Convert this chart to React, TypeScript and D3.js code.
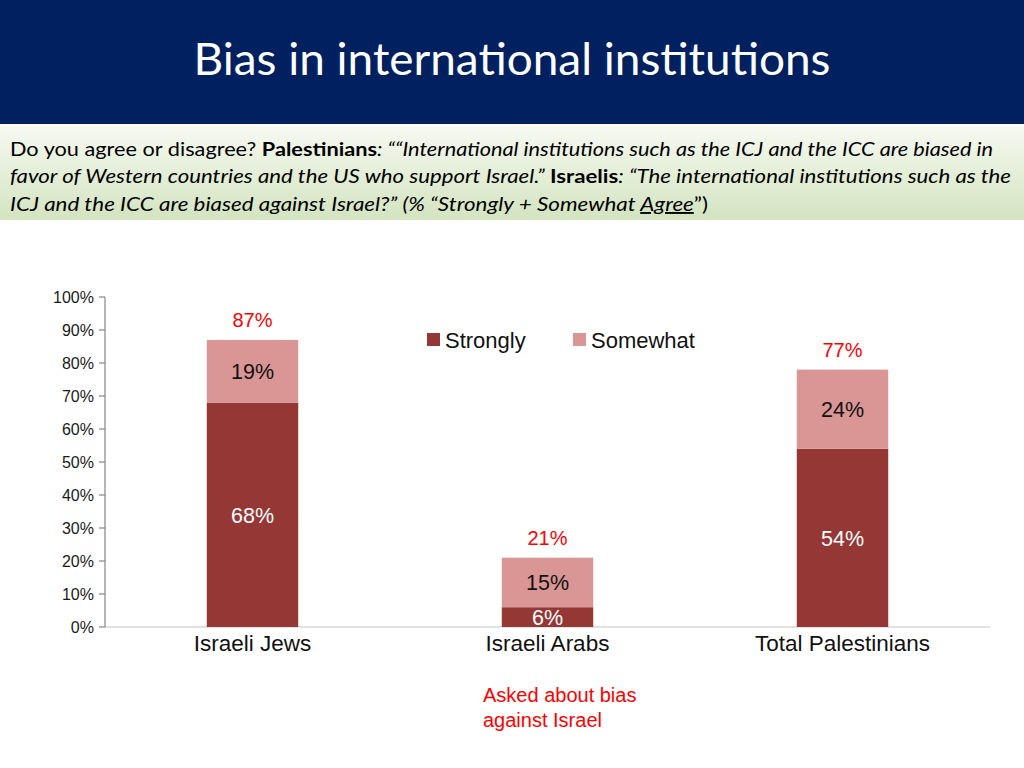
import React from 'react';
import * as d3 from 'd3';

const categories = ['Israeli Jews', 'Israeli Arabs', 'Total Palestinians'];
const strongly = [68, 6, 54];
const somewhat = [19, 15, 24];
const totals = [87, 21, 77];
const seriesNames = ['Strongly', 'Somewhat'];
const yTicks = [0, 10, 20, 30, 40, 50, 60, 70, 80, 90, 100];

const colors = { Strongly: '#953735', Somewhat: '#D99694' };
const arial = '"Liberation Sans", Arial, sans-serif';
const calibri = 'Lato, "Open Sans", sans-serif';
const red = '#FF0000';

const App = () => {
  const rows = categories.map((c, i) => ({ cat: c, Strongly: strongly[i], Somewhat: somewhat[i] }));
  const stacked = d3.stack<any>().keys(seriesNames)(rows);

  const x = d3
    .scaleBand()
    .domain(categories)
    .range([105, 990])
    .paddingInner(0.69)
    .paddingOuter(0.345);
  const y = d3.scaleLinear().domain([0, 100]).range([627, 297]);

  return (
    <svg
      width={1024}
      height={768}
      style={{ display: 'block', position: 'absolute', left: 0, top: 0 }}
    >
      <defs>
        <linearGradient id="band" x1="0" y1="0" x2="0" y2="1">
          <stop offset="0%" stopColor="#f6f9f1" />
          <stop offset="100%" stopColor="#d3e4c0" />
        </linearGradient>
      </defs>
      <rect x={0} y={0} width={1024} height={768} fill="#fff" />

      {/* header */}
      <rect x={0} y={0} width={1024} height={124} fill="#002060" />
      <text
        x={512}
        y={75}
        textAnchor="middle"
        fill="#fff"
        fontFamily={calibri}
        fontSize={44}
        textLength={637}
        lengthAdjust="spacingAndGlyphs"
      >
        Bias in international institutions
      </text>

      {/* question band */}
      <rect x={0} y={126} width={1024} height={94} fill="url(#band)" />
      <g fontFamily={calibri} fontSize={19} fill="#000">
        <text x={10} y={156} textLength={983} lengthAdjust="spacingAndGlyphs">
          <tspan>Do you agree or disagree? </tspan>
          <tspan fontWeight="bold">Palestinians</tspan>
          <tspan fontStyle="italic">: ““International institutions such as the ICJ and the ICC are biased in</tspan>
        </text>
        <text x={10} y={183} textLength={1001} lengthAdjust="spacingAndGlyphs">
          <tspan fontStyle="italic">favor of Western countries and the US who support Israel.”  </tspan>
          <tspan fontWeight="bold">Israelis</tspan>
          <tspan fontStyle="italic">: “The international institutions such as the</tspan>
        </text>
        <text x={10} y={211} textLength={698} lengthAdjust="spacingAndGlyphs">
          <tspan fontStyle="italic">ICJ and the ICC are biased against Israel?” (% “Strongly + Somewhat </tspan>
          <tspan fontStyle="italic" textDecoration="underline">Agree</tspan>
          <tspan>”)</tspan>
        </text>
      </g>

      {/* axes */}
      <line x1={105} x2={990} y1={y(0)} y2={y(0)} stroke="#d9d9d9" strokeWidth={1.5} />
      <line x1={105} x2={105} y1={y(0)} y2={y(100)} stroke="#868686" strokeWidth={1.2} />
      {yTicks.map((t) => (
        <g key={t}>
          <line x1={99} x2={105} y1={y(t)} y2={y(t)} stroke="#868686" strokeWidth={1.2} />
          <text
            x={94}
            y={y(t)}
            dy="0.35em"
            textAnchor="end"
            fontFamily={arial}
            fontSize={16}
            fill="#1a1a1a"
          >
            {t}%
          </text>
        </g>
      ))}

      {/* bars */}
      {stacked.map((s) => (
        <g key={s.key}>
          {s.map((d, i) => {
            const cat = categories[i];
            const top = y(d[1]);
            const bottom = y(d[0]);
            const v = d[1] - d[0];
            return (
              <g key={cat}>
                <rect
                  x={x(cat)}
                  width={x.bandwidth()}
                  y={top}
                  height={bottom - top}
                  fill={colors[s.key as keyof typeof colors]}
                />
                <text
                  x={(x(cat) as number) + x.bandwidth() / 2}
                  y={(top + bottom) / 2}
                  dy="0.36em"
                  textAnchor="middle"
                  fontFamily={arial}
                  fontSize={21.5}
                  fill={s.key === 'Strongly' ? '#fff' : '#111'}
                >
                  {v}%
                </text>
              </g>
            );
          })}
        </g>
      ))}

      {/* totals */}
      {categories.map((cat, i) => (
        <text
          key={cat}
          x={(x(cat) as number) + x.bandwidth() / 2}
          y={y(strongly[i] + somewhat[i]) - 20}
          dy="0.35em"
          textAnchor="middle"
          fontFamily={arial}
          fontSize={20}
          fill={red}
        >
          {totals[i]}%
        </text>
      ))}

      {/* category labels */}
      {categories.map((cat) => (
        <text
          key={cat}
          x={(x(cat) as number) + x.bandwidth() / 2}
          y={643}
          dy="0.35em"
          textAnchor="middle"
          fontFamily={arial}
          fontSize={22.5}
          fill="#111"
        >
          {cat}
        </text>
      ))}

      {/* legend */}
      {seriesNames.map((name, i) => (
        <g key={name} transform={`translate(${427 + i * 146},333)`}>
          <rect width={13} height={13} fill={colors[name as keyof typeof colors]} />
          <text x={18} y={7} dy="0.35em" fontFamily={arial} fontSize={22} fill="#111">
            {name}
          </text>
        </g>
      ))}

      {/* note */}
      <g fontFamily={arial} fontSize={20} fill={red}>
        <text x={483} y={695} dy="0.35em">Asked about bias</text>
        <text x={483} y={720} dy="0.35em">against Israel</text>
      </g>
    </svg>
  );
};

export default App;
